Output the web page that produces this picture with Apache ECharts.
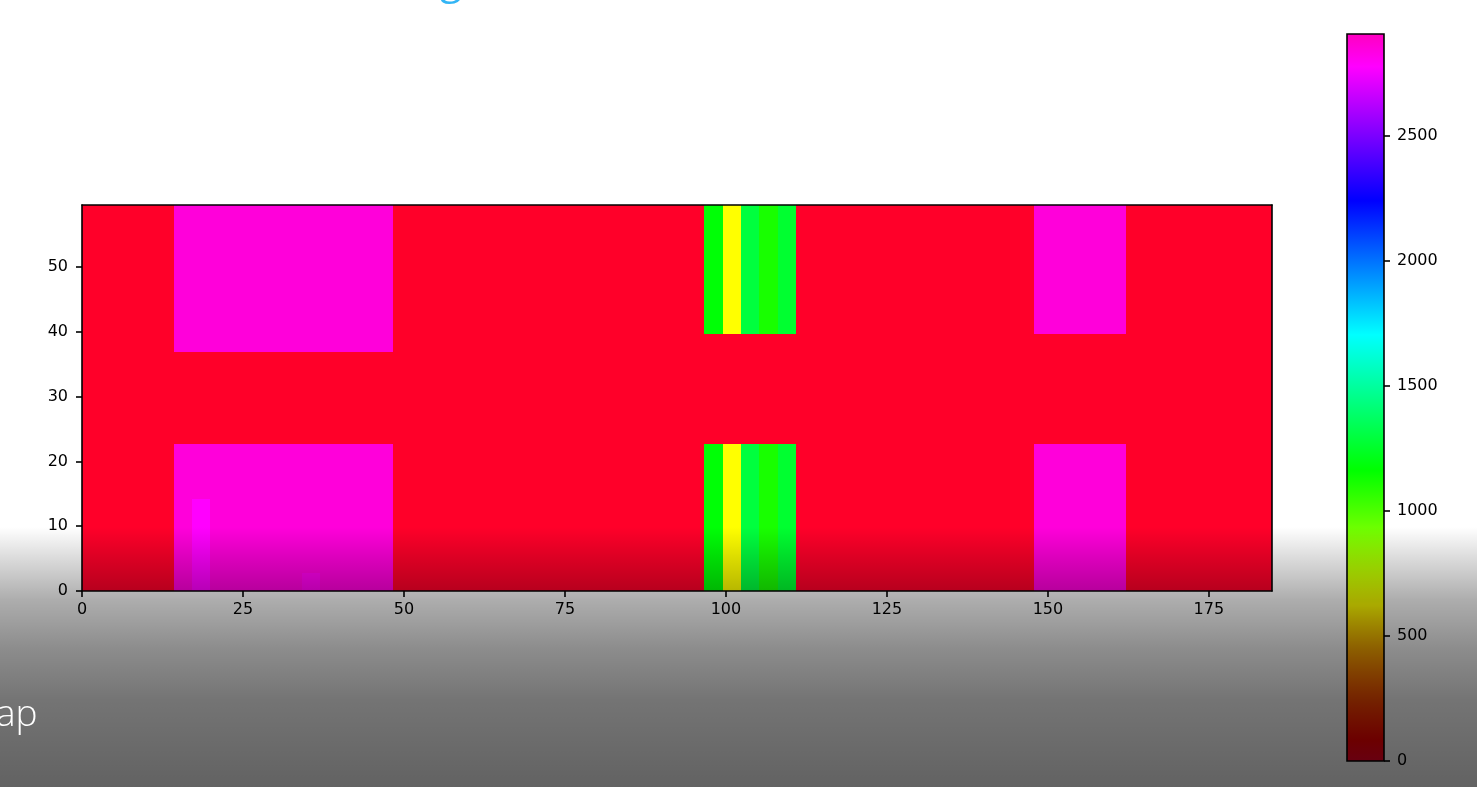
<!DOCTYPE html>
<html>
<head>
<meta charset="utf-8">
<script src="https://cdn.jsdelivr.net/npm/echarts@6/dist/echarts.min.js"></script>
<style>
html,body{margin:0;padding:0;background:#ffffff;overflow:hidden;}
#chart{width:1477px;height:787px;}
</style>
</head>
<body>
<div id="chart"></div>
<script>
// ---- tick labels ----
const xTickLabels = [0, 25, 50, 75, 100, 125, 150, 175];
const yTickLabels = [0, 10, 20, 30, 40, 50];
const cbarTickLabels = [0, 500, 1000, 1500, 2000, 2500];

// ---- grid geometry (in data units) ----
const nCols = 65;
const nRows = 21;
const xMax = 184.8;
const yMax = 59.6;
const vMin = 0;
const vMax = 2905;

// ---- cell values, one array per row pattern (65 columns) ----
// rows 14..20
const rowTop = [0,0,0,0,0, 2850,2850,2850,2850,2850,2850,2850,2850,2850,2850,2850,2850, 0,0,0,0,0,0,0,0,0,0,0,0,0,0,0,0,0, 1175,625,1292,1113,1264, 0,0,0,0,0,0,0,0,0,0,0,0,0, 2850,2850,2850,2850,2850, 0,0,0,0,0,0,0,0];
// row 13
const row13 = [0,0,0,0,0, 2850,2850,2850,2850,2850,2850,2850,2850,2850,2850,2850,2850, 0,0,0,0,0,0,0,0,0,0,0,0,0,0,0,0,0, 0,0,0,0,0, 0,0,0,0,0,0,0,0,0,0,0,0,0, 0,0,0,0,0, 0,0,0,0,0,0,0,0];
// rows 8..12
const rowMid = [0,0,0,0,0, 0,0,0,0,0,0,0,0,0,0,0,0, 0,0,0,0,0,0,0,0,0,0,0,0,0,0,0,0,0, 0,0,0,0,0, 0,0,0,0,0,0,0,0,0,0,0,0,0, 0,0,0,0,0, 0,0,0,0,0,0,0,0];
// rows 5..7
const rowLow = [0,0,0,0,0, 2850,2850,2850,2850,2850,2850,2850,2850,2850,2850,2850,2850, 0,0,0,0,0,0,0,0,0,0,0,0,0,0,0,0,0, 1175,625,1292,1113,1264, 0,0,0,0,0,0,0,0,0,0,0,0,0, 2850,2850,2850,2850,2850, 0,0,0,0,0,0,0,0];
// rows 1..4
const rowStripe = [0,0,0,0,0, 2850,2775,2850,2850,2850,2850,2850,2850,2850,2850,2850,2850, 0,0,0,0,0,0,0,0,0,0,0,0,0,0,0,0,0, 1175,625,1292,1113,1264, 0,0,0,0,0,0,0,0,0,0,0,0,0, 2850,2850,2850,2850,2850, 0,0,0,0,0,0,0,0];
// row 0
const row0 = [0,0,0,0,0, 2850,2775,2850,2850,2850,2850,2850,2810,2850,2850,2850,2850, 0,0,0,0,0,0,0,0,0,0,0,0,0,0,0,0,0, 1175,625,1292,1113,1264, 0,0,0,0,0,0,0,0,0,0,0,0,0, 2850,2850,2850,2850,2850, 0,0,0,0,0,0,0,0];

const rows = [
  row0,
  rowStripe, rowStripe, rowStripe, rowStripe,
  rowLow, rowLow, rowLow,
  rowMid, rowMid, rowMid, rowMid, rowMid,
  row13,
  rowTop, rowTop, rowTop, rowTop, rowTop, rowTop, rowTop
];

// ---- gist_rainbow colormap definition ----
const cmapStops = [
  [0.000, [1.00, 0.00, 0.16]],
  [0.030, [1.00, 0.00, 0.00]],
  [0.215, [1.00, 1.00, 0.00]],
  [0.400, [0.00, 1.00, 0.00]],
  [0.586, [0.00, 1.00, 1.00]],
  [0.770, [0.00, 0.00, 1.00]],
  [0.954, [1.00, 0.00, 1.00]],
  [1.000, [1.00, 0.00, 0.75]]
];
function toHex(c) {
  return '#' + c.map(v => Math.round(v * 255).toString(16).padStart(2, '0')).join('');
}
function cmap(t) {
  for (let i = 1; i < cmapStops.length; i++) {
    const a = cmapStops[i - 1], b = cmapStops[i];
    if (t <= b[0]) {
      const f = (t - a[0]) / (b[0] - a[0]);
      return toHex(a[1].map((v, k) => v + (b[1][k] - v) * f));
    }
  }
  return toHex(cmapStops[cmapStops.length - 1][1]);
}
const cmapColors = [];
for (let i = 0; i <= 200; i++) cmapColors.push(cmap(i / 200));

// ---- data for the heatmap ----
const cells = [];
rows.forEach((row, r) => row.forEach((v, c) => cells.push([c, r, v])));
const cellW = xMax / nCols;
const cellH = yMax / nRows;

const labelFont = { color: '#000', fontFamily: 'DejaVu Sans', fontSize: 16, formatter: v => String(v) };
const axisLineStyle = { lineStyle: { color: '#000', width: 1.6 } };
const tickStyle = { color: '#000', width: 1.6 };

const chart = echarts.init(document.getElementById('chart'), null, { renderer: 'canvas' });

chart.setOption({
  animation: false,
  backgroundColor: '#ffffff',
  grid: [
    { left: 82, top: 205, width: 1190, height: 386, containLabel: false },
    { left: 1347, top: 34, width: 37, height: 727, containLabel: false }
  ],
  xAxis: [
    {
      type: 'value', gridIndex: 0, min: 0, max: xMax, position: 'bottom', z: 10,
      axisLine: Object.assign({ show: true, onZero: false }, axisLineStyle),
      axisTick: { show: true, inside: false, length: 6, customValues: xTickLabels, lineStyle: tickStyle },
      axisLabel: Object.assign({ margin: 11, customValues: xTickLabels }, labelFont),
      splitLine: { show: false }
    },
    {
      type: 'value', gridIndex: 0, min: 0, max: xMax, position: 'top', z: 10,
      axisLine: Object.assign({ show: true, onZero: false }, axisLineStyle),
      axisTick: { show: false }, axisLabel: { show: false }, splitLine: { show: false }
    },
    { type: 'value', gridIndex: 1, min: 0, max: 1, show: false }
  ],
  yAxis: [
    {
      type: 'value', gridIndex: 0, min: 0, max: yMax, position: 'left', z: 10,
      axisLine: Object.assign({ show: true, onZero: false }, axisLineStyle),
      axisTick: { show: true, inside: false, length: 6, customValues: yTickLabels, lineStyle: tickStyle },
      axisLabel: Object.assign({ margin: 14, customValues: yTickLabels }, labelFont),
      splitLine: { show: false }
    },
    {
      type: 'value', gridIndex: 0, min: 0, max: yMax, position: 'right', z: 10,
      axisLine: Object.assign({ show: true, onZero: false }, axisLineStyle),
      axisTick: { show: false }, axisLabel: { show: false }, splitLine: { show: false }
    },
    {
      type: 'value', gridIndex: 1, min: vMin, max: vMax, position: 'right', z: 10,
      axisLine: { show: false, onZero: false },
      axisTick: { show: true, inside: false, length: 6, customValues: cbarTickLabels, lineStyle: tickStyle },
      axisLabel: Object.assign({ margin: 13, customValues: cbarTickLabels }, labelFont),
      splitLine: { show: false }
    }
  ],
  visualMap: {
    type: 'continuous', show: false, seriesIndex: 0, dimension: 2,
    min: vMin, max: vMax, inRange: { color: cmapColors }
  },
  series: [
    {
      type: 'custom',
      xAxisIndex: 0, yAxisIndex: 0,
      encode: { x: 0, y: 1 },
      data: cells,
      renderItem: function (params, api) {
        const c = api.value(0), r = api.value(1);
        const p0 = api.coord([c * cellW, r * cellH]);
        const p1 = api.coord([(c + 1) * cellW, (r + 1) * cellH]);
        const x0 = Math.round(p0[0]), x1 = Math.round(p1[0]);
        const yb = Math.round(p0[1]), yt = Math.round(p1[1]);
        return {
          type: 'rect',
          shape: { x: x0, y: yt, width: x1 - x0, height: yb - yt },
          style: { fill: api.visual('color') }
        };
      }
    },
    {
      type: 'custom',
      xAxisIndex: 2, yAxisIndex: 2,
      data: [[0, vMin]],
      renderItem: function (params, api) {
        const p0 = api.coord([0, vMin]);
        const p1 = api.coord([1, vMax]);
        return {
          type: 'rect',
          shape: { x: p0[0], y: p1[1], width: p1[0] - p0[0], height: p0[1] - p1[1] },
          style: {
            fill: new echarts.graphic.LinearGradient(0, 1, 0, 0,
              cmapStops.map(s => ({ offset: s[0], color: toHex(s[1]) }))),
            stroke: '#000', lineWidth: 1.6
          }
        };
      }
    }
  ],
  graphic: [
    {
      type: 'text', z: 100, left: 440, top: -37,
      style: { text: 'g', fill: '#33b5f5', font: '400 40px "Open Sans"' }
    },
    {
      type: 'rect', z: 100, left: 0, top: 527,
      shape: { width: 1477, height: 260 },
      style: {
        fill: new echarts.graphic.LinearGradient(0, 0, 0, 1, [
          { offset: 0, color: 'rgba(0,0,0,0)' },
          { offset: 0.127, color: 'rgba(0,0,0,0.15)' },
          { offset: 0.28, color: 'rgba(0,0,0,0.32)' },
          { offset: 0.47, color: 'rgba(0,0,0,0.45)' },
          { offset: 0.665, color: 'rgba(0,0,0,0.545)' },
          { offset: 1, color: 'rgba(0,0,0,0.615)' }
        ])
      },
      silent: true
    },
    {
      type: 'text', z: 101, left: -4, top: 697,
      style: { text: 'ap', fill: '#ffffff', font: '300 37px "Open Sans"' }
    }
  ]
});
</script>
</body>
</html>
